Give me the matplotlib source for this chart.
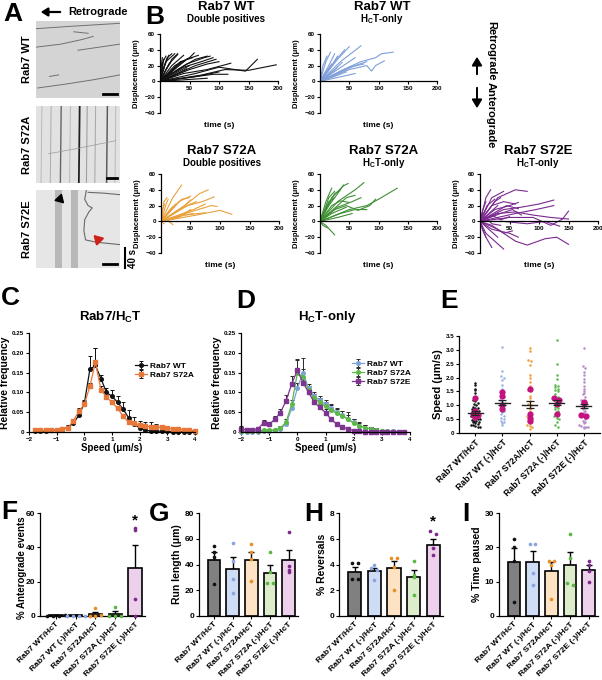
import numpy as np
import matplotlib
matplotlib.use('Agg')
import matplotlib.pyplot as plt

plt.rcParams['font.family'] = ['Liberation Sans', 'DejaVu Sans']
plt.rcParams['font.weight'] = 'bold'
plt.rcParams['axes.labelweight'] = 'bold'
plt.rcParams['mathtext.fontset'] = 'custom'
plt.rcParams['mathtext.rm'] = 'Liberation Sans:bold'
plt.rcParams['mathtext.bf'] = 'Liberation Sans:bold'
plt.rcParams['mathtext.default'] = 'bf'

W, H = 602, 680

# ---------------- data ----------------
# kymograph tracks (x, y in fraction of the image, y=1 at top)
kymo_wt_tracks = [
    [(0.0, 0.66), (0.3, 0.70), (0.55, 0.76), (0.68, 0.80)],
    [(0.0, 0.90), (0.4, 0.93), (1.0, 0.97)],
    [(0.02, 0.13), (0.35, 0.18), (0.7, 0.24), (1.0, 0.30)],
    [(0.16, 0.28), (0.27, 0.30)],
    [(0.5, 0.62), (0.75, 0.66), (1.0, 0.70)],
    [(0.45, 0.86), (0.62, 0.84)],
]
kymo_a_x = [0.06, 0.17, 0.29, 0.40, 0.51, 0.60, 0.70, 0.84, 0.94]
kymo_a_gray = [0.72, 0.68, 0.40, 0.72, 0.12, 0.62, 0.66, 0.35, 0.72]
kymo_a_diag = [(0.15, 0.38), (0.5, 0.45), (0.95, 0.55)]
kymo_e_bands = [0.27, 0.46]
kymo_e_tracks = [
    [(0.60, 1.0), (0.58, 0.88), (0.62, 0.80), (0.67, 0.77), (0.63, 0.72),
     (0.58, 0.62), (0.57, 0.48), (0.59, 0.36), (0.72, 0.33), (1.0, 0.30)],
    [(0.62, 0.97), (0.8, 0.96), (1.0, 0.94)],
]

# displacement trajectories (time s, displacement um)
wt_double = [
    [(0, 0), (8, 20), (15, 33)], [(0, 0), (5, 15), (12, 30), (20, 35)],
    [(0, 0), (10, 25), (25, 35)], [(0, 0), (15, 22), (30, 34)],
    [(0, 0), (20, 20), (40, 33)], [(0, 0), (25, 20), (50, 30), (58, 36)],
    [(0, 0), (20, 12), (45, 28), (65, 33)], [(0, 0), (30, 15), (60, 28), (80, 32)],
    [(0, 0), (40, 18), (70, 25), (90, 30)], [(0, 0), (50, 15), (80, 22), (100, 25)],
    [(0, 0), (40, 10), (80, 15), (120, 23)],
    [(0, 0), (60, 10), (100, 18), (145, 13), (165, 28)],
    [(0, 0), (70, 8), (110, 15), (150, 14), (197, 21)],
    [(0, 0), (50, 5), (90, 9), (115, 9)], [(0, 0), (30, 3), (60, 6), (100, 12)],
    [(0, 0), (5, 25), (10, 32)], [(0, 0), (3, 10), (6, 28)],
    [(0, 0), (12, 8), (25, 18), (35, 25)], [(0, 0), (15, 5), (30, 12), (50, 20)],
    [(0, 0), (8, 5), (20, 12)], [(0, 0), (25, 8), (45, 16)],
    [(0, 0), (35, 25), (55, 30)], [(0, 0), (2, 18), (4, 30)],
    [(0, 0), (20, 28), (30, 35)], [(0, 0), (45, 22), (75, 30), (85, 32)],
    [(0, 0), (60, 20), (95, 28)], [(0, 0), (40, 2), (80, 4)],
    [(0, 0), (10, 15), (18, 24)], [(0, 0), (30, 20), (42, 26)],
]
wt_hct = [
    [(0, 0), (10, 25), (18, 37)], [(0, 0), (15, 20), (25, 35)],
    [(0, 0), (20, 20), (30, 32)], [(0, 0), (25, 25), (42, 40)],
    [(0, 0), (30, 28), (50, 44)], [(0, 0), (35, 25), (70, 45)],
    [(0, 0), (40, 20), (60, 30)], [(0, 0), (30, 10), (60, 20), (80, 25)],
    [(0, 0), (50, 15), (80, 20), (88, 13), (95, 20), (110, 26)],
    [(0, 0), (40, 15), (70, 25), (95, 30), (105, 35), (125, 37)],
    [(0, 0), (50, 18), (75, 22)], [(0, 0), (20, 5), (45, 12)],
    [(0, 0), (10, 12), (20, 22)], [(0, 0), (5, 20), (12, 32)],
    [(0, 0), (30, 5), (60, 10)], [(0, 0), (25, 15), (38, 24)],
    [(0, 0), (15, 8), (30, 18)],
]
a_double = [
    [(0, 0), (20, 30), (35, 46)], [(0, 0), (8, 20), (12, 28)],
    [(0, 0), (5, 25), (10, 30)], [(0, 0), (30, 25), (50, 32)],
    [(0, 0), (40, 20), (65, 35), (80, 40)], [(0, 0), (45, 20), (70, 25), (90, 31)],
    [(0, 0), (50, 12), (85, 20), (95, 19)], [(0, 0), (60, 8), (100, 14), (120, 9)],
    [(0, 0), (40, 8), (75, 11)], [(0, 0), (25, 12), (40, 20), (50, 27)],
    [(0, 0), (20, 5), (40, 8), (55, 10)], [(0, 0), (15, 15), (25, 22)],
    [(0, 0), (10, 2), (20, -4)], [(0, 0), (30, 5), (50, 15)],
    [(0, 0), (35, 28), (48, 30)], [(0, 0), (12, 10), (20, 18)],
    [(0, 0), (3, 15), (6, 22)], [(0, 0), (55, 15), (75, 22)],
    [(0, 0), (5, -3)], [(0, 0), (30, 15), (50, 22), (60, 25)],
]
a_hct = [
    [(0, 0), (20, 30), (40, 45), (48, 48)], [(0, 0), (30, 25), (60, 40), (75, 49)],
    [(0, 0), (10, 25), (20, 42)], [(0, 0), (15, 20), (30, 35), (40, 46)],
    [(0, 0), (50, 15), (80, 20), (100, 28), (132, 42)],
    [(0, 0), (25, 15), (45, 20), (65, 14), (85, 20), (95, 28)],
    [(0, 0), (30, 18), (55, 25), (70, 30)], [(0, 0), (35, 10), (60, 15), (80, 15)],
    [(0, 0), (10, -5), (25, -17)], [(0, 0), (5, 10), (12, 20)],
    [(0, 0), (15, 25), (25, 30)], [(0, 0), (20, 10), (45, 18)],
    [(0, 0), (8, 15), (15, 30), (25, 38)], [(0, 0), (25, 35), (35, 40)],
    [(0, 0), (20, 20), (35, 26), (50, 24)], [(0, 0), (30, 5), (55, 10)],
    [(0, 0), (5, -5), (12, -8)], [(0, 0), (45, 30), (60, 33)],
]
e_hct = [
    [(0, 0), (10, 30), (18, 40)], [(0, 0), (20, 30), (40, 38)],
    [(0, 0), (30, 30), (60, 40), (80, 38)], [(0, 0), (20, 20), (40, 25), (60, 22)],
    [(0, 0), (40, 15), (70, 18), (100, 22), (125, 27)],
    [(0, 0), (30, 10), (60, 12), (90, 8), (120, 5), (150, 3)],
    [(0, 0), (50, 5), (90, 5), (120, -5), (140, 3), (150, 13)],
    [(0, 0), (30, -10), (60, -25), (80, -30), (110, -22), (130, -20), (150, -29)],
    [(0, 0), (20, -10), (50, -15), (65, -20)], [(0, 0), (10, -15), (25, -25), (40, -35)],
    [(0, 0), (15, -10), (30, -20)], [(0, 0), (5, -12), (10, -20)],
    [(0, 0), (20, -5), (40, -15), (55, -12)], [(0, 0), (25, 15), (50, 20), (65, 24)],
    [(0, 0), (15, 10), (30, 20)], [(0, 0), (5, 15), (10, 25)],
    [(0, 0), (40, 0), (80, -3), (110, 0), (135, -6)], [(0, 0), (25, 25), (35, 30)],
    [(0, 0), (35, 10), (55, 15), (70, 8)], [(0, 0), (10, 5), (20, -3), (35, -5)],
    [(0, 0), (10, -20), (20, -33)], [(0, 0), (45, 20), (65, 16)],
    [(0, 0), (60, 10), (95, 15), (125, 20)], [(0, 0), (12, 20), (25, 28)],
    [(0, 0), (3, 8), (8, 12)], [(0, 0), (20, 8), (35, 2), (50, 6)],
]

# speed distributions
c_x = [-1.8, -1.6, -1.4, -1.2, -1.0, -0.8, -0.6, -0.4, -0.2, 0.0, 0.2, 0.4, 0.6, 0.8, 1.0,
       1.2, 1.4, 1.6, 1.8, 2.0, 2.2, 2.4, 2.6, 2.8, 3.0, 3.2, 3.4, 3.6, 3.8, 4.0]
c_wt = [0.003, 0.003, 0.002, 0.004, 0.004, 0.006, 0.012, 0.022, 0.042, 0.072, 0.158, 0.168,
        0.135, 0.100, 0.090, 0.075, 0.058, 0.036, 0.020, 0.010, 0.004, 0.003, 0.002, 0.002,
        0.002, 0.001, 0.001, 0.001, 0.001, 0.0]
c_wt_err = [0.0, 0.0, 0.002, 0.006, 0.007, 0.005, 0.005, 0.008, 0.012, 0.010, 0.035, 0.045,
            0.010, 0.012, 0.015, 0.015, 0.018, 0.020, 0.018, 0.018, 0.020, 0.022, 0.018, 0.015,
            0.014, 0.012, 0.008, 0.006, 0.004, 0.0]
c_a = [0.004, 0.004, 0.004, 0.005, 0.005, 0.007, 0.010, 0.028, 0.052, 0.070, 0.115, 0.176,
       0.107, 0.088, 0.075, 0.060, 0.040, 0.025, 0.022, 0.018, 0.015, 0.013, 0.012, 0.012,
       0.010, 0.008, 0.007, 0.006, 0.004, 0.003]
c_a_err = [0.002, 0.002, 0.002, 0.003, 0.003, 0.003, 0.004, 0.006, 0.008, 0.008, 0.010, 0.036,
           0.008, 0.006, 0.006, 0.005, 0.005, 0.004, 0.004, 0.004, 0.004, 0.003, 0.003, 0.003,
           0.003, 0.003, 0.002, 0.002, 0.002, 0.002]

d_x = [-2.0, -1.8, -1.6, -1.4, -1.2, -1.0, -0.8, -0.6, -0.4, -0.2, 0.0, 0.2, 0.4, 0.6, 0.8,
       1.0, 1.2, 1.4, 1.6, 1.8, 2.0, 2.2, 2.4, 2.6, 2.8, 3.0, 3.2, 3.4, 3.6, 3.8]
d_wt = [0.001, 0.001, 0.001, 0.001, 0.002, 0.002, 0.004, 0.008, 0.020, 0.060, 0.110, 0.150,
        0.110, 0.090, 0.080, 0.070, 0.060, 0.050, 0.042, 0.033, 0.024, 0.016, 0.011, 0.008,
        0.005, 0.003, 0.002, 0.002, 0.001, 0.001]
d_wt_err = [0.001, 0.001, 0.001, 0.001, 0.002, 0.002, 0.003, 0.004, 0.006, 0.010, 0.015, 0.038,
            0.012, 0.010, 0.010, 0.010, 0.010, 0.010, 0.010, 0.010, 0.008, 0.007, 0.006, 0.005,
            0.004, 0.003, 0.002, 0.002, 0.001, 0.001]
d_a = [0.002, 0.002, 0.003, 0.003, 0.004, 0.005, 0.005, 0.010, 0.025, 0.070, 0.148, 0.140,
       0.105, 0.085, 0.075, 0.065, 0.055, 0.047, 0.040, 0.032, 0.022, 0.016, 0.011, 0.008,
       0.005, 0.003, 0.002, 0.001, 0.001, 0.0]
d_a_err = [0.002, 0.002, 0.002, 0.002, 0.003, 0.003, 0.003, 0.005, 0.008, 0.012, 0.035, 0.020,
           0.012, 0.012, 0.012, 0.012, 0.012, 0.012, 0.012, 0.018, 0.010, 0.008, 0.006, 0.005,
           0.004, 0.003, 0.002, 0.001, 0.001, 0.0]
d_e = [0.008, 0.005, 0.005, 0.008, 0.023, 0.019, 0.032, 0.049, 0.079, 0.121, 0.156, 0.125,
       0.100, 0.075, 0.062, 0.049, 0.032, 0.020, 0.013, 0.008, 0.003, 0.002, 0.001, 0.001,
       0.0, 0.0, 0.0, 0.0, 0.0, 0.0]
d_e_err = [0.006, 0.004, 0.003, 0.005, 0.008, 0.007, 0.008, 0.010, 0.015, 0.020, 0.028, 0.015,
           0.010, 0.008, 0.008, 0.008, 0.006, 0.005, 0.004, 0.003, 0.002, 0.001, 0.001, 0.001,
           0.0, 0.0, 0.0, 0.0, 0.0, 0.0]

# per-track speeds (panel E)
conditions = ['Rab7 WT/HcT', 'Rab7 WT (-)/HcT', 'Rab7 S72A/HcT',
              'Rab7 S72A (-)/HcT', 'Rab7 S72E (-)/HcT']
speed_wt = [1.8, 1.75, 1.6, 1.55, 1.45, 1.3, 1.2, 1.15, 1.1, 1.05, 1.0, 0.95, 0.92, 0.9,
            0.88, 0.85, 0.82, 0.8, 0.78, 0.75, 0.72, 0.7, 0.68, 0.65, 0.62, 0.6, 0.58, 0.55,
            0.52, 0.5, 0.48, 0.45, 0.42, 0.4, 0.38, 0.35, 0.32, 0.3, 0.28, 0.25, 0.22, 0.2]
speed_wt_neg = [3.1, 2.25, 2.05, 2.0, 1.9, 1.75, 1.6, 1.5, 1.45, 1.35, 1.3, 1.2, 1.15, 1.1,
                1.05, 1.0, 0.95, 0.9, 0.85, 0.8, 0.75, 0.7, 0.62, 0.55, 0.5, 0.45, 0.4,
                0.35, 0.3]
speed_a = [3.05, 2.95, 2.65, 2.6, 2.45, 2.1, 2.0, 1.85, 1.7, 1.55, 1.5, 1.35, 1.25, 1.15,
           1.05, 1.0, 0.9, 0.85, 0.75, 0.7, 0.6, 0.55, 0.5, 0.45, 0.4, 0.35, 0.3, 0.25,
           0.2, 0.15]
speed_a_neg = [3.35, 2.5, 2.1, 1.95, 1.75, 1.7, 1.65, 1.6, 1.55, 1.5, 1.4, 1.3, 1.25, 1.2,
               1.15, 1.1, 1.05, 1.0, 0.95, 0.9, 0.85, 0.8, 0.75, 0.7, 0.65, 0.6, 0.55,
               0.5, 0.4, 0.3, 0.2]
speed_e_neg = [3.05, 2.4, 2.35, 2.2, 2.1, 1.95, 1.85, 1.7, 1.6, 1.5, 1.45, 1.4, 1.3, 1.2,
               1.15, 1.1, 1.05, 1.0, 0.95, 0.9, 0.85, 0.8, 0.75, 0.7, 0.6, 0.5, 0.45, 0.4,
               0.35, 0.3, 0.25, 0.22, 0.2, 0.2, 0.18]
speed_exp_means = [[1.27, 0.78, 0.70, 0.66, 0.58], [1.48, 1.32, 1.02, 0.85],
                   [1.60, 0.68, 0.55, 0.45], [1.28, 1.20, 1.05, 0.67],
                   [1.12, 1.07, 0.65, 0.63]]
speed_mean = [0.72, 1.10, 1.02, 1.10, 0.96]
speed_sem = [0.07, 0.10, 0.12, 0.08, 0.07]

# per-experiment summaries (panels F-I)
antero_mean = [0.5, 0.3, 1.2, 1.4, 27.7]
antero_sem = [0.3, 0.3, 1.2, 1.3, 13.5]
antero_pts = [[0, 0, 0, 0.5], [0, 0, 0, 0], [0, 0, 0.5, 4.5], [0, 0, 0, 5.5], [50, 51, 10, 0]]
run_mean = [43.5, 36.5, 43.5, 33.5, 43.5]
run_sem = [6.5, 9.0, 6.5, 6.0, 8.0]
run_pts = [[54, 50, 46, 25], [57, 43, 29, 18], [56, 50, 44, 27], [50, 34, 25.5, 25.5],
           [65.5, 38.5, 35.5, 34]]
rev_mean = [3.45, 3.5, 3.7, 3.0, 5.5]
rev_sem = [0.35, 0.2, 0.6, 0.55, 0.45]
rev_pts = [[4.1, 4.1, 2.9, 2.9], [3.95, 3.7, 3.6, 2.8], [4.5, 4.5, 3.8, 2.0],
           [4.3, 3.2, 3.0, 1.6], [6.6, 6.4, 5.3, 4.7]]
pause_mean = [15.8, 15.8, 13.0, 14.8, 13.5]
pause_sem = [4.0, 3.0, 2.6, 3.7, 1.3]
pause_pts = [[22.5, 20, 16, 4.2], [21, 21, 12.5, 9], [16, 16, 15, 5], [24, 17, 9.5, 9],
             [16, 15, 13, 10]]

# ---------------- styles ----------------
bar_fill = ['#808080', '#cfdcf5', '#fde3c3', '#dcedcc', '#ecd0ec']
dot_col = ['#111111', '#8aa5e0', '#e8902a', '#5cb845', '#7b2a8a']
swarm_col = ['#111111', '#9bb3e6', '#ef9d3a', '#56b948', '#b98bc9']

fig = plt.figure(figsize=(W / 100, H / 100), dpi=100)


def box(x0, y0, x1, y1):
    return fig.add_axes([x0 / W, 1 - y1 / H, (x1 - x0) / W, (y1 - y0) / H])


def ftext(x, y, s, **kw):
    fig.text(x / W, 1 - y / H, s, **kw)


def clean(ax, tick_fs=5):
    for s in ['top', 'right']:
        ax.spines[s].set_visible(False)
    for s in ['left', 'bottom']:
        ax.spines[s].set_linewidth(0.9)
    ax.tick_params(labelsize=tick_fs, width=0.8, length=2.5, pad=1)


# panel letters
for letter, x, y in [('A', 3, 2), ('B', 145, 5), ('C', 1, 286), ('D', 236, 289),
                     ('E', 440, 289), ('F', 1, 500), ('G', 149, 502), ('H', 304, 502),
                     ('I', 462, 502)]:
    ftext(x, y, letter, fontsize=19, fontweight='bold', ha='left', va='top')

# ---------------- A: kymographs ----------------
ftext(68, 12, 'Retrograde', fontsize=8, ha='left', va='center')
fig.add_artist(matplotlib.patches.FancyArrowPatch(
    (63 / W, 1 - 12 / H), (38 / W, 1 - 12 / H), transform=fig.transFigure,
    arrowstyle='-|>,head_length=4,head_width=2.5', lw=1.6, color='black'))

kymo_boxes = [(36, 21, 120, 98), (36, 106, 120, 183), (36, 190, 120, 268)]
kymo_names = ['Rab7 WT', 'Rab7 S72A', 'Rab7 S72E']
kymo_bg = ['#d4d4d4', '#e2e2e2', '#e6e6e6']
kymo_axes = []
for (x0, y0, x1, y1), name, bg in zip(kymo_boxes, kymo_names, kymo_bg):
    ax = box(x0, y0, x1, y1)
    ax.set_facecolor(bg)
    ax.set_xlim(0, 1)
    ax.set_ylim(0, 1)
    ax.set_xticks([])
    ax.set_yticks([])
    for s in ax.spines.values():
        s.set_visible(False)
    ftext(x0 - 9, (y0 + y1) / 2, name, fontsize=8, rotation=90, ha='center', va='center')
    kymo_axes.append(ax)

ax = kymo_axes[0]
for tr in kymo_wt_tracks:
    xs, ys = zip(*tr)
    ax.plot(xs, ys, color='#707070', lw=0.7)
ax.plot([0.80, 0.97], [0.05, 0.05], color='black', lw=2)

ax = kymo_axes[1]
for xv, g in zip(kymo_a_x, kymo_a_gray):
    ax.plot([xv, xv + 0.01], [0, 1], color=str(g), lw=1.4 - g)
xs, ys = zip(*kymo_a_diag)
ax.plot(xs, ys, color='#9a9a9a', lw=0.5)
ax.plot([0.85, 0.97], [0.06, 0.06], color='black', lw=2)

ax = kymo_axes[2]
for xv in kymo_e_bands:
    ax.axvspan(xv - 0.04, xv + 0.04, color='#b8b8b8', lw=0)
for tr in kymo_e_tracks:
    xs, ys = zip(*tr)
    ax.plot(xs, ys, color='#6a6a6a', lw=0.8)
ax.plot([0.80, 0.97], [0.05, 0.05], color='black', lw=2)
ax.annotate('', xy=(0.36, 0.80), xytext=(0.27, 0.90),
            arrowprops=dict(arrowstyle='-|>,head_length=0.5,head_width=0.3', color='black', lw=1.2))
ax.annotate('', xy=(0.66, 0.45), xytext=(0.77, 0.33),
            arrowprops=dict(arrowstyle='-|>,head_length=0.5,head_width=0.3', color='#d0201a', lw=1.6))
fig.add_artist(matplotlib.lines.Line2D([125 / W, 125 / W], [1 - 248 / H, 1 - 268 / H],
                                       color='black', lw=1.5))
ftext(133, 258, '40 s', fontsize=7, rotation=90, ha='center', va='center')

# ---------------- B: trajectories ----------------
traj_panels = [
    (wt_double, '#111111', (160, 34, 278, 113), 'Rab7 WT', 'Double positives', 226, 7),
    (wt_hct, '#7f9fd9', (320, 34, 437, 113), 'Rab7 WT', r'H$_\mathbf{C}$T-only', 382, 7),
    (a_double, '#e8a13c', (161, 174, 279, 253), 'Rab7 S72A', 'Double positives', 222, 151),
    (a_hct, '#3f8f35', (320, 174, 437, 253), 'Rab7 S72A', r'H$_\mathbf{C}$T-only', 384, 151),
    (e_hct, '#7a2a8e', (480, 174, 598, 253), 'Rab7 S72E', r'H$_\mathbf{C}$T-only', 538, 151),
]
for tracks, col, (x0, y0, x1, y1), t1, t2, tx, ty in traj_panels:
    ax = box(x0, y0, x1, y1)
    for tr in tracks:
        ts, ds = zip(*tr)
        ax.plot(ts, ds, color=col, lw=0.8)
    ax.set_xlim(0, 200)
    ax.set_ylim(-40, 60)
    ax.spines['bottom'].set_position(('data', 0))
    ax.set_xticks([50, 100, 150, 200])
    ax.set_yticks([-40, -20, 0, 20, 40, 60])
    clean(ax, 4.5)
    ax.set_xlabel('time (s)', fontsize=6)
    ax.xaxis.set_label_coords(0.5, -0.11)
    ax.set_ylabel('Displacement (μm)', fontsize=5.5)
    ax.yaxis.set_label_coords(-0.17, 0.5)
    ftext(tx, ty, t1, fontsize=9.5, ha='center', va='center')
    ftext(tx, ty + 12.5, t2, fontsize=7, ha='center', va='center')

ftext(491, 51, 'Retrograde', fontsize=8, rotation=-90, ha='center', va='center')
ftext(491, 115, 'Anterograde', fontsize=8, rotation=-90, ha='center', va='center')
for ya, yb in [(77, 54), (85, 111)]:
    fig.add_artist(matplotlib.patches.FancyArrowPatch(
        (477 / W, 1 - ya / H), (477 / W, 1 - yb / H), transform=fig.transFigure,
        arrowstyle='-|>,head_length=5,head_width=3', lw=1.4, color='black'))

# ---------------- C & D: speed distributions ----------------
def dist_axes(x0, x1, title, title_x):
    ax = box(x0, 333, x1, 432)
    ax.set_xlim(-2, 4)
    ax.set_ylim(0, 0.25)
    ax.set_xticks([-2, -1, 0, 1, 2, 3, 4])
    ax.set_yticks([0, 0.05, 0.10, 0.15, 0.20, 0.25])
    ax.set_yticklabels(['0', '0.05', '0.10', '0.15', '0.20', '0.25'])
    clean(ax, 4.5)
    ax.set_xlabel('Speed (μm/s)', fontsize=7, labelpad=1)
    ax.set_ylabel('Relative frequency', fontsize=7.5, labelpad=1)
    ftext(title_x, 317, title, fontsize=9.5, ha='center', va='center')
    return ax


ax = dist_axes(29, 195, r'Rab7/H$_\mathbf{C}$T', 110)
for xs, ys, es, col, mk, lab in [(c_x, c_wt, c_wt_err, '#111111', 'o', 'Rab7 WT'),
                                 (c_x, c_a, c_a_err, '#e8783a', 's', 'Rab7 S72A')]:
    ax.errorbar(xs, ys, yerr=[np.zeros(len(es)), es], fmt='-' + mk, color=col, ms=2.6,
                lw=0.9, ecolor='#111111', elinewidth=0.7, capsize=1.5, capthick=0.7,
                label=lab, clip_on=False)
ax.legend(loc='upper left', bbox_to_anchor=(0.62, 0.74), frameon=False, fontsize=6,
          handlelength=1.4, handletextpad=0.4, labelspacing=0.15, borderaxespad=0)

ax = dist_axes(241, 410, r'H$_\mathbf{C}$T-only', 327)
for xs, ys, es, col, mk, lab in [(d_x, d_wt, d_wt_err, '#7fa3d9', 'o', 'Rab7 WT'),
                                 (d_x, d_a, d_a_err, '#5db847', 'o', 'Rab7 S72A'),
                                 (d_x, d_e, d_e_err, '#7e3590', 's', 'Rab7 S72E')]:
    ax.errorbar(xs, ys, yerr=[np.zeros(len(es)), es], fmt='-' + mk, color=col, ms=2.6,
                lw=0.9, ecolor='#2a2a2a', elinewidth=0.7, capsize=1.5, capthick=0.7,
                label=lab, clip_on=False)
ax.legend(loc='upper left', bbox_to_anchor=(0.64, 0.76), frameon=False, fontsize=6,
          handlelength=1.4, handletextpad=0.4, labelspacing=0.15, borderaxespad=0)

# ---------------- E: speeds per track ----------------
def swarm(vals, bin_h=0.1, dx=0.085):
    vals = np.asarray(vals)
    offs = np.zeros(len(vals))
    bins = np.floor(vals / bin_h)
    for b in np.unique(bins):
        idx = np.where(bins == b)[0]
        k = len(idx)
        offs[idx] = (np.arange(k) - (k - 1) / 2) * dx
    return offs


ax = box(459, 336, 600, 433)
speeds = [speed_wt, speed_wt_neg, speed_a, speed_a_neg, speed_e_neg]
for i, vals in enumerate(speeds):
    ax.plot(i + swarm(vals), vals, 'o', color=swarm_col[i], ms=1.8, mew=0)
    ax.plot(i + swarm(speed_exp_means[i], 0.12, 0.2), speed_exp_means[i], 'o',
            color='#c4127e', ms=4.5, mew=0)
    ax.plot([i - 0.28, i + 0.28], [speed_mean[i]] * 2, color='#222222', lw=1)
    ax.errorbar(i, speed_mean[i], yerr=speed_sem[i], fmt='none', ecolor='#222222',
                elinewidth=0.9, capsize=3, capthick=0.9)
ax.set_xlim(-0.6, 4.6)
ax.set_ylim(0, 3.5)
ax.set_yticks([0, 0.5, 1.0, 1.5, 2.0, 2.5, 3.0, 3.5])
ax.set_yticklabels(['0', '0.5', '1.0', '1.5', '2.0', '2.5', '3.0', '3.5'])
ax.set_xticks(range(5))
ax.set_xticklabels(conditions, rotation=45, ha='right', rotation_mode='anchor')
clean(ax, 4.5)
ax.tick_params(axis='x', labelsize=6.3)
ax.set_ylabel('Speed (μm/s)', fontsize=8, labelpad=2)

# ---------------- F-I: bar charts ----------------
def bar_panel(x0, x1, means, sems, pts, ylim, yticks, ylabel, star=None, lab_fs=7.5):
    ax = box(x0, 513, x1, 616)
    xs = np.arange(5)
    ax.bar(xs, means, width=0.68, color=bar_fill, edgecolor='black', linewidth=1.2, zorder=2)
    ax.errorbar(xs, means, yerr=[np.zeros(5), sems], fmt='none', ecolor='black',
                elinewidth=1, capsize=2.2, capthick=1, zorder=1)
    for i, p in enumerate(pts):
        offs = swarm(p, (ylim[1] - ylim[0]) * 0.04, 0.3)
        ax.scatter(i + offs, p, s=7, color=dot_col[i], zorder=3, linewidths=0, clip_on=False)
    if star is not None:
        ax.text(4, star, '*', fontsize=11, ha='center', va='center')
    ax.set_xlim(-0.8, 4.5)
    ax.set_ylim(*ylim)
    ax.set_yticks(yticks)
    ax.set_xticks(xs)
    ax.set_xticklabels(conditions, rotation=45, ha='right', rotation_mode='anchor')
    clean(ax, 6)
    ax.tick_params(axis='x', labelsize=6.1)
    ax.set_ylabel(ylabel, fontsize=lab_fs, labelpad=2)
    return ax


ax = bar_panel(40, 145, antero_mean, antero_sem, antero_pts, (0, 60), [0, 20, 40, 60],
               '% Anterograde events', star=55.5, lab_fs=7)
ax.yaxis.set_label_coords(-0.125, 0.47)
bar_panel(199, 298, run_mean, run_sem, run_pts, (0, 80), [0, 20, 40, 60, 80],
          'Run length (μm)')
bar_panel(339, 443, rev_mean, rev_sem, rev_pts, (0, 8), [0, 2, 4, 6, 8],
          '% Reversals', star=7.35)
bar_panel(499, 598, pause_mean, pause_sem, pause_pts, (0, 30), [0, 10, 20, 30],
          '% Time paused')

fig.savefig('out.png', dpi=100)
